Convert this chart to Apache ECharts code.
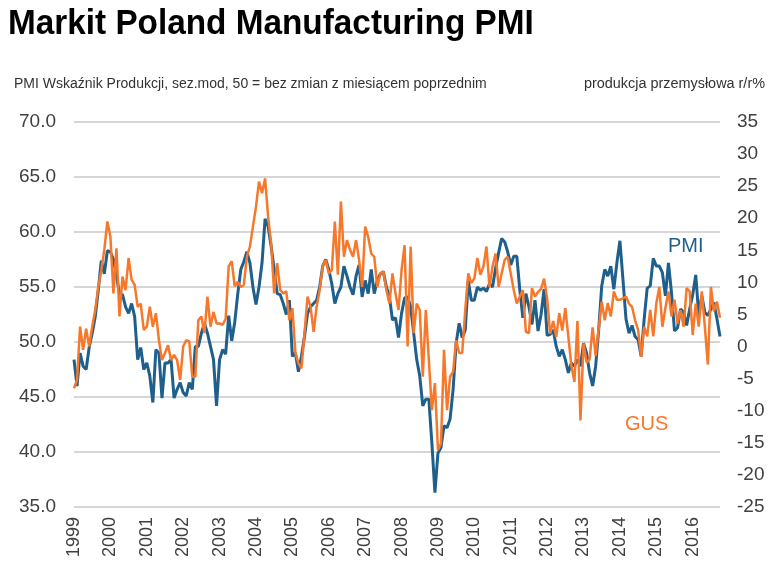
<!DOCTYPE html>
<html><head><meta charset="utf-8">
<script src="https://cdn.jsdelivr.net/npm/echarts@6/dist/echarts.min.js"></script>
<style>html,body{margin:0;padding:0;background:#fff}#c{width:783px;height:573px}</style>
</head><body><div id="c"></div>
<script>
// Years on the x axis (monthly data from Jan 1999)
const years = ['1999','2000','2001','2002','2003','2004','2005','2006','2007','2008','2009','2010','2011','2012','2013','2014','2015','2016'];

// PMI output index (left axis)
const pmi = [
48.4,46.0,49.0,47.8,47.5,49.5,50.8,52.3,54.7,57.4,56.2,58.3,
58.2,57.5,56.0,54.4,54.3,53.2,52.6,53.5,52.3,48.4,49.5,47.5,
48.1,46.9,44.5,49.3,49.0,44.9,48.1,48.1,48.4,44.9,45.7,46.3,
45.4,45.1,46.3,45.7,49.6,49.6,50.8,51.7,50.8,49.6,48.4,44.2,
48.4,49.3,48.9,52.4,50.1,51.8,54.4,56.6,57.3,58.2,57.2,55.0,
53.4,55.0,57.2,61.2,60.5,58.7,56.6,54.4,54.3,53.5,52.5,53.8,
48.7,49.0,47.3,48.7,50.5,52.6,53.2,53.5,53.8,55.0,56.9,57.5,
56.6,55.3,53.5,54.4,55.0,56.9,56.0,55.0,54.3,56.0,57.0,54.1,
55.6,54.4,56.6,54.4,55.6,56.2,56.4,55.0,54.1,52.0,52.2,50.4,
52.6,54.0,54.1,53.2,50.8,48.4,46.9,44.2,44.8,44.8,40.8,36.3,
39.9,40.4,42.4,42.2,43.0,45.7,49.9,51.7,50.4,51.1,55.6,53.8,
53.8,55.0,54.7,54.9,54.6,55.3,55.0,56.7,58.1,59.4,59.1,58.2,
57.0,57.8,57.8,54.7,52.2,54.4,53.2,51.6,53.8,51.0,52.5,54.8,
50.6,50.7,51.1,49.6,48.7,49.3,48.4,47.2,48.1,47.8,48.4,47.8,
49.9,49.0,47.2,46.0,47.8,51.1,55.1,56.6,56.0,56.9,54.8,57.2,
59.2,55.7,52.1,50.8,51.5,50.5,50.2,48.7,52.1,54.9,55.1,57.6,
56.9,56.9,56.3,54.2,57.2,54.5,51.0,51.3,53.0,52.7,51.5,53.0,
54.3,56.1,52.4,54.2,52.7,52.4,53.0,53.6,52.1,50.5
];

// GUS industrial production y/y % (right axis)
const gus = [
-6.5,-5.2,3.1,-0.5,2.8,0.0,3.1,5.7,9.3,11.9,15.1,19.5,
17.1,8.3,15.3,4.7,10.9,8.8,13.8,10.4,9.6,6.2,6.7,2.6,
3.1,6.2,3.1,5.2,1.0,-2.1,-1.0,0.2,-2.1,-1.3,-2.1,-5.2,
0.0,1.0,0.8,-4.7,-4.7,4.1,4.7,2.1,7.8,3.1,5.4,3.6,
3.6,3.4,4.3,12.5,13.3,9.4,10.1,9.3,9.6,14.0,15.6,18.7,
21.8,25.7,23.9,26.2,20.2,16.1,8.3,13.0,8.8,8.3,8.6,4.1,
6.0,-1.0,-2.6,-3.4,2.1,7.8,6.2,2.3,6.2,8.8,12.5,13.5,
11.4,11.9,19.5,11.2,22.6,14.0,16.6,15.1,14.0,16.6,13.5,9.3,
18.7,17.1,14.5,14.0,9.3,11.4,11.7,8.8,6.7,11.4,8.3,5.7,
11.9,15.8,0.0,15.6,2.1,6.7,5.7,-4.7,5.7,-2.1,-9.9,-5.7,
-16.1,-15.1,-0.5,-9.9,-4.7,-3.9,1.0,-1.0,-1.0,5.7,11.4,9.9,
10.6,13.8,11.2,12.5,15.6,9.3,12.5,14.5,9.3,11.4,13.5,14.0,
11.4,8.8,6.7,7.8,8.8,2.3,2.1,9.1,7.8,8.5,9.0,10.6,
7.5,2.0,4.0,1.5,5.2,2.5,6.0,1.5,-3.0,-5.5,4.0,-11.5,
0.5,-2.5,-2.0,3.0,-1.5,2.8,7.0,4.1,6.8,4.7,8.6,7.3,
7.3,7.5,7.8,6.7,6.2,4.1,2.6,-1.6,3.1,1.6,5.7,1.6,
6.7,9.3,3.1,6.0,8.6,4.7,7.3,3.6,5.7,3.1,9.1,8.6,
1.8,6.7,3.1,8.6,3.1,-2.8,9.3,5.5,7.0,4.5
];

const leftTicks = {min: 35, max: 70, step: 5};
const rightTicks = {min: -25, max: 35, step: 5};

const categories = [];
years.forEach(y => { for (let m = 1; m <= 12; m++) categories.push(y + '-' + (m < 10 ? '0' + m : m)); });
categories.length = pmi.length;

const BLUE = '#1f5f8c', ORANGE = '#f7782b', TXT = '#404040';
const chart = echarts.init(document.getElementById('c'), null, {renderer: 'canvas'});
chart.setOption({
  animation: false,
  backgroundColor: '#fff',
  graphic: [
    {type: 'text', x: 8, y: 6, scaleX: 0.98, scaleY: 1.05, style: {text: 'Markit Poland Manufacturing PMI', fontFamily: 'Liberation Sans', fontWeight: 'bold', fontSize: 34, fill: '#000', verticalAlign: 'top'}},
    {type: 'text', x: 14, y: 77, style: {text: 'PMI Wskaźnik Produkcji, sez.mod, 50 = bez zmian z miesiącem poprzednim', fontFamily: 'Liberation Sans', fontSize: 14, fill: '#333', verticalAlign: 'top'}},
    {type: 'text', x: 765, y: 77, scaleX: 1.03, style: {text: 'produkcja przemysłowa r/r%', fontFamily: 'Liberation Sans', fontSize: 14, fill: '#333', align: 'right', verticalAlign: 'top'}},
    {type: 'text', left: 668, top: 236, style: {text: 'PMI', fontFamily: 'Liberation Sans', fontSize: 20, fill: BLUE}},
    {type: 'text', left: 625, top: 414, style: {text: 'GUS', fontFamily: 'Liberation Sans', fontSize: 20, fill: ORANGE}}
  ],
  grid: {left: 74, right: 63, top: 122, bottom: 66},
  xAxis: {
    type: 'category', data: categories, boundaryGap: false,
    axisLine: {show: false}, axisTick: {show: false},
    axisLabel: {
      rotate: 90, margin: 10, fontFamily: 'Liberation Sans', fontSize: 18, color: TXT,
      interval: (i, v) => v.endsWith('-01'),
      formatter: v => v.slice(0, 4)
    }
  },
  yAxis: [
    {type: 'value', min: leftTicks.min, max: leftTicks.max, interval: leftTicks.step,
     axisLine: {show: false}, axisTick: {show: false},
     axisLabel: {margin: 18, fontFamily: 'Liberation Sans', fontSize: 19, color: TXT, formatter: v => v.toFixed(1)},
     splitLine: {lineStyle: {color: '#c8c8c8', width: 1.5}}},
    {type: 'value', min: rightTicks.min, max: rightTicks.max, interval: rightTicks.step, position: 'right',
     axisLine: {show: false}, axisTick: {show: false},
     axisLabel: {margin: 17, fontFamily: 'Liberation Sans', fontSize: 19, color: TXT},
     splitLine: {show: false}}
  ],
  series: [
    {name: 'GUS', type: 'line', yAxisIndex: 1, data: gus, showSymbol: false, lineStyle: {color: ORANGE, width: 2.5}, z: 2},
    {name: 'PMI', type: 'line', yAxisIndex: 0, data: pmi, showSymbol: false, lineStyle: {color: BLUE, width: 3}, z: 1}
  ]
});
</script></body></html>
